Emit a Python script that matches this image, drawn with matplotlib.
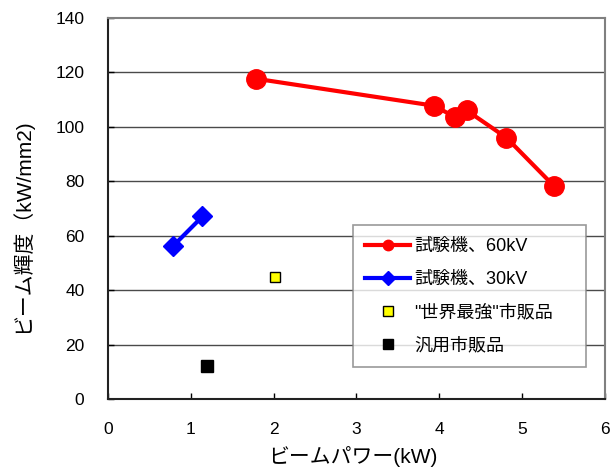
import matplotlib
matplotlib.use("Agg")
import matplotlib.pyplot as plt

plt.rcParams["font.family"] = ["Liberation Sans", "Noto Sans CJK JP"]

# beam power (kW) vs beam brightness (kW/mm2)
p60_kw = [1.79, 3.94, 4.19, 4.33, 4.81, 5.39]
p60_br = [117.6, 107.7, 103.5, 106.0, 96.0, 78.1]
p30_kw = [0.79, 1.14]
p30_br = [56.4, 67.1]
strongest_kw = [2.02]
strongest_br = [45.0]
generic_kw = [1.19]
generic_br = [12.2]

labels = ["試験機、60kV", "試験機、30kV", "\"世界最強\"市販品", "汎用市販品"]
x_ticks = [0, 1, 2, 3, 4, 5, 6]
y_ticks = [0, 20, 40, 60, 80, 100, 120, 140]

fig = plt.figure(figsize=(6.15, 4.68), dpi=100)
ax = fig.add_axes([0.1756, 0.1464, 0.8081, 0.8158])

for y in y_ticks[1:-1]:
    ax.axhline(y, color="#4a4a4a", lw=1.0, zorder=1)

ax.plot(p60_kw, p60_br, color="#ff0000", lw=3.0, marker="o", ms=14,
        label=labels[0], zorder=3)
ax.plot(p30_kw, p30_br, color="#0000ff", lw=3.0, marker="D", ms=10.5,
        label=labels[1], zorder=3)
ax.plot(strongest_kw, strongest_br, ls="none", marker="s", ms=7.5,
        mfc="#ffff00", mec="black", mew=1.0, label=labels[2], zorder=3)
ax.plot(generic_kw, generic_br, ls="none", marker="s", ms=8,
        color="black", label=labels[3], zorder=3)

ax.set_xlim(0, 6)
ax.set_ylim(0, 140)
ax.set_xticks(x_ticks)
ax.set_yticks(y_ticks)
ax.tick_params(direction="in", length=4, width=1, labelsize=12.5, color="black")
ax.tick_params(axis="x", pad=16)
ax.tick_params(axis="y", pad=17)

for side in ("left", "bottom"):
    ax.spines[side].set_color("#222222")
    ax.spines[side].set_linewidth(1.5)
for side in ("top", "right"):
    ax.spines[side].set_color("#808080")
    ax.spines[side].set_linewidth(1.5)

ax.set_xlabel("ビームパワー(kW)", fontsize=15)
ax.set_ylabel("ビーム輝度（kW/mm2)", fontsize=15)
ax.xaxis.set_label_coords(0.493, -0.123)
ax.yaxis.set_label_coords(-0.153, 0.454)

leg = ax.legend(loc="upper left", bbox_to_anchor=(0.492, 0.456, 0.47, 0.0),
                mode="expand", fontsize=13, frameon=True, fancybox=False,
                edgecolor="#808080", handlelength=2.5, labelspacing=0.9,
                borderpad=0.7, handletextpad=0.2, borderaxespad=0)
leg.get_frame().set_linewidth(1.2)
leg.set_zorder(5)
for h, ms in zip(leg.legend_handles, [7.5, 7, 7, 7]):
    h.set_markersize(ms)

fig.savefig("out.png", dpi=100)
